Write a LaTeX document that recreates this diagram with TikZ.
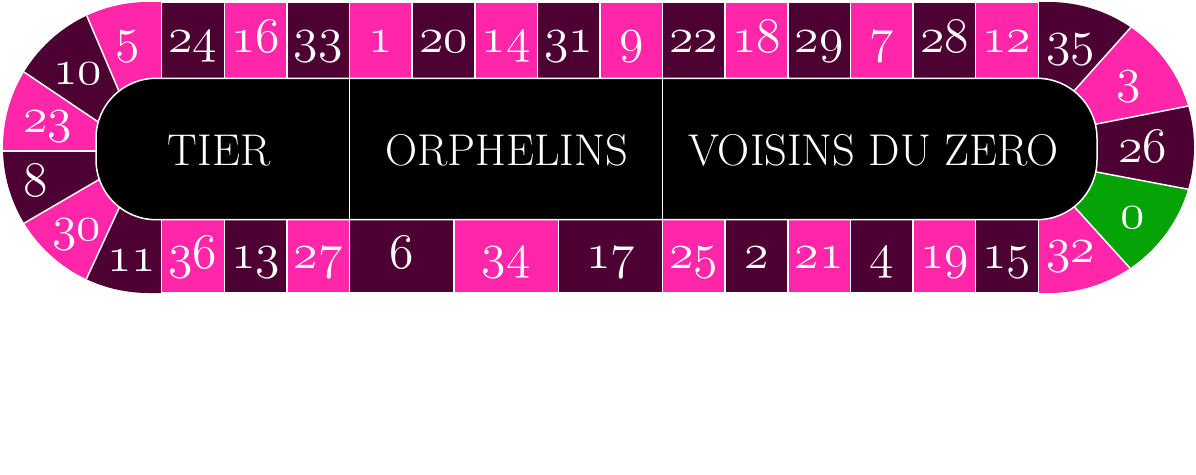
\documentclass[tikz,border=0pt]{standalone}
\usepackage{graphicx}
\usetikzlibrary{calc}
\definecolor{pk}{HTML}{FF26AA}
\definecolor{dk}{HTML}{4D0032}
\definecolor{gr}{HTML}{06A306}
\newcommand\numfont{\fontencoding{OML}\fontfamily{cmm}\fontseries{m}\fontshape{it}\fontsize{24.88}{25}\selectfont}
\newcommand\nm[1]{\scalebox{2}{\numfont #1}}
\newcommand\secfont{\fontsize{44.5}{44.5}\selectfont}
\tikzset{
  cell/.style={rectangle, draw=white, line width=1.5pt, inner sep=0pt, text=white,
    text height=30pt, text depth=5.5pt, minimum width=62.614pt},
  topcell/.style={cell, minimum height=76.3pt},
  botcell/.style={cell, minimum height=73.3pt},
  widecell/.style={minimum width=104.357pt},
  lbl/.style={text=white, anchor=base, inner sep=0pt},
  sec/.style={text=white, font=\secfont, anchor=base, inner sep=0pt},
  sepline/.style={draw=white, line width=1.5pt},
}
\begin{document}
\begin{tikzpicture}[x=1pt,y=1pt]
\path[fill=white, use as bounding box] (0,0) rectangle (1196,-474);

% boundary points of the end segments (inner / far outer)
\coordinate (L0i) at (161.7,-78.3);  \coordinate (L0o) at (161.7,150);
\coordinate (L1i) at (119.2,-91.7);  \coordinate (L1o) at (21.7,136.9);
\coordinate (L2i) at (98.3,-122);    \coordinate (L2o) at (-124.6,28);
\coordinate (L3i) at (96,-151);      \coordinate (L3o) at (-183,-151);
\coordinate (L4i) at (98.3,-180);    \coordinate (L4o) at (-124.6,-309.9);
\coordinate (L5i) at (120,-206);     \coordinate (L5o) at (20.1,-422.9);
\coordinate (L6i) at (161.7,-219.7); \coordinate (L6o) at (161.7,-440);

\coordinate (R0i) at (1038.3,-78.3);  \coordinate (R0o) at (1038.3,150);
\coordinate (R1i) at (1073.3,-91.7);  \coordinate (R1o) at (1243.4,98.5);
\coordinate (R2i) at (1095,-124.3);   \coordinate (R2o) at (1374.9,-69.4);
\coordinate (R3i) at (1095,-171.7);   \coordinate (R3o) at (1374.9,-224.5);
\coordinate (R4i) at (1072.7,-205);   \coordinate (R4o) at (1240.7,-390.1);
\coordinate (R5i) at (1038.3,-219.7); \coordinate (R5o) at (1038.3,-440);

\begin{scope}
  \clip (148.5,-2) -- (1048.5,-2) arc[start angle=90,end angle=-90,radius=145.5]
        -- (148.5,-293) arc[start angle=270,end angle=90,radius=145.5] -- cycle;
  % left end
  \fill[pk] (L0i) -- (L0o) -- (L1o) -- (L1i) -- cycle;
  \fill[dk] (L1i) -- (L1o) -- (L2o) -- (L2i) -- cycle;
  \fill[pk] (L2i) -- (L2o) -- (L3o) -- (L3i) -- cycle;
  \fill[dk] (L3i) -- (L3o) -- (L4o) -- (L4i) -- cycle;
  \fill[pk] (L4i) -- (L4o) -- (L5o) -- (L5i) -- cycle;
  \fill[dk] (L5i) -- (L5o) -- (L6o) -- (L6i) -- cycle;
  % right end
  \fill[dk] (R0i) -- (R0o) -- (R1o) -- (R1i) -- cycle;
  \fill[pk] (R1i) -- (R1o) -- (R2o) -- (R2i) -- cycle;
  \fill[dk] (R2i) -- (R2o) -- (R3o) -- (R3i) -- cycle;
  \fill[gr] (R3i) -- (R3o) -- (R4o) -- (R4i) -- cycle;
  \fill[pk] (R4i) -- (R4o) -- (R5o) -- (R5i) -- cycle;
  % white borders between end segments
  \foreach \b in {L1,L2,L3,L4,L5,R1,R2,R3,R4}
    \draw[sepline] ($(\b i)!-6pt!(\b o)$) -- (\b o);
\end{scope}

% top row
\foreach \n [count=\i] in {24,16,33,1,20,14,31,9,22,18,29,7,28,12} {
  \pgfmathsetmacro\cx{161.7+62.614*(\i-0.5)}
  \ifodd\i \def\cc{dk}\else\def\cc{pk}\fi
  \node[topcell, fill=\cc] (t\n) at (\cx,-40.15) {\nm{\n}};
}

% bottom row
\node[botcell, fill=pk] (b36) at (193.007,-256.35) {\nm{36}};
\node[botcell, fill=dk] (b13) at (255.621,-256.35) {\nm{13}};
\node[botcell, fill=pk] (b27) at (318.235,-256.35) {\nm{27}};
\node[botcell, widecell, fill=dk] (b6) at (401.72,-256.35) {\nm{6}};
\node[botcell, widecell, fill=pk] (b34) at (506.08,-256.35) {\nm{34}};
\node[botcell, widecell, fill=dk] (b17) at (610.44,-256.35) {\nm{17}};
\node[botcell, fill=pk] (b25) at (693.919,-256.35) {\nm{25}};
\node[botcell, fill=dk] (b2) at (756.533,-256.35) {\nm{2}};
\node[botcell, fill=pk] (b21) at (819.147,-256.35) {\nm{21}};
\node[botcell, fill=dk] (b4) at (881.761,-256.35) {\nm{4}};
\node[botcell, fill=pk] (b19) at (944.375,-256.35) {\nm{19}};
\node[botcell, fill=dk] (b15) at (1006.989,-256.35) {\nm{15}};

% inner black track
\draw[fill=black, draw=white, line width=1.5pt, rounded corners=60pt]
  (96,-78.3) rectangle (1097,-219.7);
\draw[sepline] (349.54,-78.3) -- (349.54,-219.7);
\draw[sepline] (662.61,-78.3) -- (662.61,-219.7);

\node[sec] (tier) at (219,-165) {TIER};
\node[sec] (orph) at (506.5,-165) {ORPHELINS};
\node[sec] (vois) at (873.5,-165) {VOISINS DU ZERO};

% end labels
\node[lbl] (e5)  at (128,-52) {\nm{5}};
\node[lbl] (e10) at (78,-84.5) {\nm{10}};
\node[lbl] (e23) at (47.5,-132) {\nm{23}};
\node[lbl] (e8)  at (36,-196.5) {\nm{8}};
\node[lbl] (e30) at (77,-240.5) {\nm{30}};
\node[lbl] (e11) at (131.5,-271.5) {\nm{11}};
\node[lbl] (e35) at (1070.5,-55) {\nm{35}};
\node[lbl] (e3)  at (1129,-92) {\nm{3}};
\node[lbl] (e26) at (1142.5,-162) {\nm{26}};
\node[lbl] (e0)  at (1133,-228) {\nm{0}};
\node[lbl] (e32) at (1070.5,-262) {\nm{32}};
\end{tikzpicture}
\end{document}
